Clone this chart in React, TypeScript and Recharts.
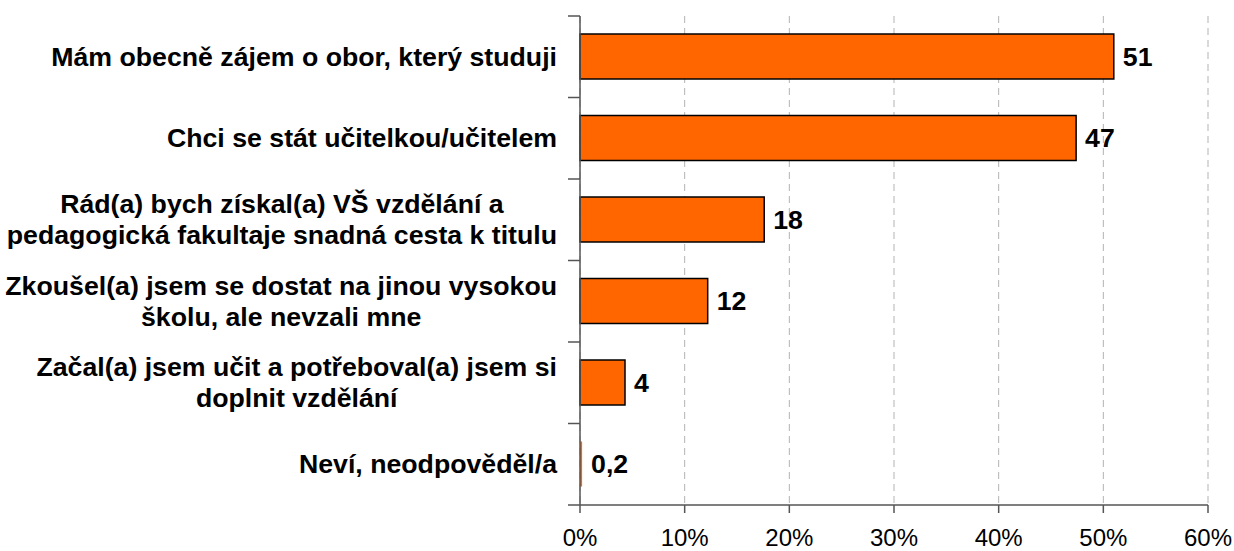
import { BarChart, Bar, XAxis, YAxis, CartesianGrid, LabelList, Rectangle } from "recharts";

// categories (line breaks as in the source chart)
const categories = [
  "Mám obecně zájem o obor, který studuji",
  "Chci se stát učitelkou/učitelem",
  "Rád(a) bych získal(a) VŠ vzdělání a\npedagogická fakultaje snadná cesta k titulu",
  "Zkoušel(a) jsem se dostat na jinou vysokou\nškolu, ale nevzali mne",
  "Začal(a) jsem učit a potřeboval(a) jsem si\ndoplnit vzdělání",
  "Neví, neodpověděl/a",
];
const values = [51, 47.4, 17.6, 12.2, 4.3, 0.2];
const valueLabels = ["51", "47", "18", "12", "4", "0,2"];
const xTicks = [0, 10, 20, 30, 40, 50, 60];

const FONT = '"Liberation Sans", Arial, Helvetica, sans-serif';
const LABEL_SIZE = 26.7;
const W = 1234;
const H = 551;
const MARGIN = { top: 16, right: 26, left: 0, bottom: 0 };
const Y_AXIS_W = 580;
const X_AXIS_H = 46;
const PLOT_H = H - MARGIN.top - MARGIN.bottom - X_AXIS_H;
const BAND = PLOT_H / categories.length;

let ctx: CanvasRenderingContext2D | null = null;
function measure(text: string, font: string) {
  if (!ctx) ctx = document.createElement("canvas").getContext("2d");
  if (!ctx) return text.length * 13;
  ctx.font = font;
  return ctx.measureText(text).width;
}

function CategoryTick(props: any) {
  const { x, y, payload, index } = props;
  const lines = String(payload.value).split("\n");
  const font = `bold ${LABEL_SIZE}px ${FONT}`;
  const w = Math.max(...lines.map((l) => measure(l, font)));
  const right = x - 23;
  const cx = right - w / 2;
  const lh = 31;
  return (
    <g>
      <line x1={x - 12} x2={x} y1={y - BAND / 2} y2={y - BAND / 2} stroke="#555" strokeWidth={1.5} />
      {index === categories.length - 1 && (
        <line x1={x - 12} x2={x} y1={y + BAND / 2} y2={y + BAND / 2} stroke="#555" strokeWidth={1.5} />
      )}
      {lines.map((l, i) => (
        <text
          key={i}
          x={cx}
          y={y + (i - (lines.length - 1) / 2) * lh}
          textAnchor="middle"
          dominantBaseline="central"
          fontFamily={FONT}
          fontWeight="bold"
          fontSize={LABEL_SIZE}
          fill="#000"
        >
          {l}
        </text>
      ))}
    </g>
  );
}

// very thin bars (0,2 %) get no outline, as in the original
function BarShape(props: any) {
  const thin = props.width < 3;
  return <Rectangle {...props} stroke={thin ? "none" : "#000"} />;
}

export default function App() {
  const data = categories.map((name, i) => ({
    name,
    value: values[i],
    label: valueLabels[i],
  }));

  return (
    <div style={{ width: W, height: H, background: "#fff" }}>
      <style>{`body{margin:0}`}</style>
      <BarChart width={W} height={H} data={data} layout="vertical" margin={MARGIN}>
        <CartesianGrid horizontal={false} vertical stroke="#b3b3b3" strokeDasharray="7 5" />
        <XAxis
          type="number"
          domain={[0, 60]}
          ticks={xTicks}
          tickFormatter={(v) => `${v}%`}
          height={X_AXIS_H}
          stroke="#555"
          strokeWidth={1.5}
          tickSize={8}
          tickMargin={16}
          tick={{ fontSize: 24, fill: "#000", fontFamily: FONT }}
          interval={0}
        />
        <YAxis
          type="category"
          dataKey="name"
          width={Y_AXIS_W}
          stroke="#555"
          strokeWidth={1.5}
          tickLine={false}
          tickSize={0}
          tickMargin={0}
          tick={<CategoryTick />}
          interval={0}
        />
        <Bar
          dataKey="value"
          fill="#FF6600"
          stroke="#000"
          strokeWidth={1.5}
          barSize={45}
          shape={<BarShape />}
          isAnimationActive={false}
        >
          <LabelList
            dataKey="label"
            position="right"
            offset={9}
            fill="#000"
            fontSize={LABEL_SIZE}
            fontWeight="bold"
            fontFamily={FONT}
          />
        </Bar>
      </BarChart>
    </div>
  );
}
